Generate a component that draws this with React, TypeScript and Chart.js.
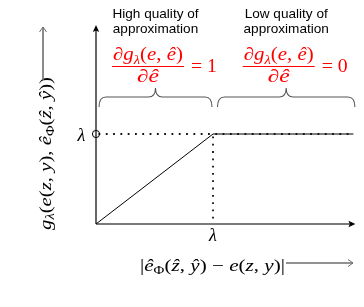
import React, { useEffect, useRef } from "react";
import { Chart, registerables } from "chart.js";

Chart.register(...registerables);

// ---- data ----
const LAMBDA = 1;
const X_MAX = 2.2;
const Y_MAX = 2.2;
const risingX = [0, LAMBDA];
const risingY = [0, LAMBDA];
const plateauX = [LAMBDA, X_MAX];
const plateauY = [LAMBDA, LAMBDA];
const xTickLabels = ["λ"];
const yTickLabels = ["λ"];
const regionTitles = [
  ["High quality of", "approximation"],
  ["Low quality of", "approximation"],
];
const regionBounds = [
  [0, LAMBDA],
  [LAMBDA, X_MAX],
];
const regionDerivatives = ["1", "0"];

type Run = { t: string; i?: boolean; s?: boolean };

const SERIF = '"Liberation Serif", "DejaVu Serif", serif';
function fontFor(r: Run, size: number) {
  const sz = r.s ? size * 0.7 : size;
  return `${r.i ? "italic " : ""}${sz}px ${SERIF}`;
}
function measureRuns(ctx: CanvasRenderingContext2D, runs: Run[], size: number) {
  let w = 0;
  for (const r of runs) {
    ctx.font = fontFor(r, size);
    w += ctx.measureText(r.t).width;
  }
  return w;
}
function drawRuns(
  ctx: CanvasRenderingContext2D,
  runs: Run[],
  x: number,
  y: number,
  size: number,
  target?: number,
  align: "left" | "center" = "left"
) {
  const nat = measureRuns(ctx, runs, size);
  const k = target ? target / nat : 1;
  const w = nat * k;
  const x0 = align === "center" ? x - w / 2 : x;
  ctx.save();
  ctx.translate(x0, y);
  ctx.scale(k, 1);
  ctx.textAlign = "left";
  ctx.textBaseline = "alphabetic";
  let cx = 0;
  for (const r of runs) {
    ctx.font = fontFor(r, size);
    ctx.fillText(r.t, cx, r.s ? size * 0.22 : 0);
    cx += ctx.measureText(r.t).width;
  }
  ctx.restore();
  return w;
}

const numerRuns: Run[] = [
  { t: "∂", i: true },
  { t: "g", i: true },
  { t: "λ", i: true, s: true },
  { t: "(" },
  { t: "e", i: true },
  { t: ", " },
  { t: "ê", i: true },
  { t: ")" },
];
const denomRuns: Run[] = [{ t: "∂", i: true }, { t: "ê", i: true }];
const yLabelRuns: Run[] = [
  { t: "g", i: true },
  { t: "λ", i: true, s: true },
  { t: "(" },
  { t: "e", i: true },
  { t: "(" },
  { t: "z", i: true },
  { t: ", " },
  { t: "y", i: true },
  { t: "), " },
  { t: "ê", i: true },
  { t: "Φ", s: true },
  { t: "(" },
  { t: "ẑ", i: true },
  { t: ", " },
  { t: "ŷ", i: true },
  { t: "))" },
];
const xLabelRuns: Run[] = [
  { t: "|" },
  { t: "ê", i: true },
  { t: "Φ", s: true },
  { t: "(" },
  { t: "ẑ", i: true },
  { t: ", " },
  { t: "ŷ", i: true },
  { t: ") − " },
  { t: "e", i: true },
  { t: "(" },
  { t: "z", i: true },
  { t: ", " },
  { t: "y", i: true },
  { t: ")|" },
];

const decorPlugin = {
  id: "decor",
  beforeDatasetsDraw(chart: any) {
    const ctx: CanvasRenderingContext2D = chart.ctx;
    const xs = chart.scales.x;
    const ys = chart.scales.y;
    const ox = xs.getPixelForValue(0);
    const oy = ys.getPixelForValue(0);
    const xEnd = xs.getPixelForValue(X_MAX);
    const yTop = ys.getPixelForValue(Y_MAX);
    ctx.save();
    // y axis
    ctx.strokeStyle = "#000";
    ctx.lineWidth = 1.2;
    ctx.beginPath();
    ctx.moveTo(ox, oy);
    ctx.lineTo(ox, yTop + 4);
    ctx.stroke();
    ctx.fillStyle = "#000";
    ctx.beginPath();
    ctx.moveTo(ox, yTop - 1);
    ctx.lineTo(ox - 3.2, yTop + 6);
    ctx.lineTo(ox, yTop + 4.5);
    ctx.lineTo(ox + 3.2, yTop + 6);
    ctx.closePath();
    ctx.fill();
    // x axis
    ctx.strokeStyle = "#7a7a7a";
    ctx.lineWidth = 2;
    ctx.beginPath();
    ctx.moveTo(ox, oy);
    ctx.lineTo(xEnd - 3, oy);
    ctx.stroke();
    ctx.fillStyle = "#000";
    ctx.beginPath();
    ctx.moveTo(xEnd + 2, oy);
    ctx.lineTo(xEnd - 5, oy - 3.2);
    ctx.lineTo(xEnd - 3.5, oy);
    ctx.lineTo(xEnd - 5, oy + 3.2);
    ctx.closePath();
    ctx.fill();
    ctx.restore();
  },
  afterDraw(chart: any) {
    const ctx: CanvasRenderingContext2D = chart.ctx;
    const xs = chart.scales.x;
    const ys = chart.scales.y;
    const ox = xs.getPixelForValue(0);
    const oy = ys.getPixelForValue(0);
    const lx = xs.getPixelForValue(LAMBDA);
    const ly = ys.getPixelForValue(LAMBDA);
    ctx.save();
    // circle at lambda on y axis
    ctx.strokeStyle = "#000";
    ctx.lineWidth = 1;
    ctx.beginPath();
    ctx.arc(ox, ly, 3.6, 0, Math.PI * 2);
    ctx.stroke();
    ctx.fillStyle = "#000";
    // tick labels
    drawRuns(ctx, [{ t: yTickLabels[0], i: true }], ox - 14.5, ly + 6.5, 18, undefined, "center");
    drawRuns(ctx, [{ t: xTickLabels[0], i: true }], lx, oy + 16.5, 18, undefined, "center");

    // braces + region texts
    regionBounds.forEach((b, idx) => {
      const x1 = xs.getPixelForValue(b[0]) + (idx === 0 ? 3 : 4.5);
      const x2 = xs.getPixelForValue(b[1]) + (idx === 0 ? -1 : 1.5);
      const cx = (x1 + x2) / 2;
      const yT = 97;
      const yTip = 107;
      const yC = 88;
      ctx.strokeStyle = "#555";
      ctx.lineWidth = 1.1;
      ctx.beginPath();
      ctx.moveTo(x1, yTip);
      ctx.quadraticCurveTo(x1, yT, x1 + 7, yT);
      ctx.lineTo(cx - 7, yT);
      ctx.quadraticCurveTo(cx, yT, cx, yC);
      ctx.quadraticCurveTo(cx, yT, cx + 7, yT);
      ctx.lineTo(x2 - 7, yT);
      ctx.quadraticCurveTo(x2, yT, x2, yTip);
      ctx.stroke();

      ctx.fillStyle = "#000";
      ctx.font = '13.6px "Liberation Sans", Arial, sans-serif';
      ctx.textAlign = "center";
      ctx.textBaseline = "alphabetic";
      ctx.fillText(regionTitles[idx][0], cx, 18);
      ctx.fillText(regionTitles[idx][1], cx, 33);

      // red derivative
      ctx.fillStyle = "#ff0000";
      ctx.strokeStyle = "#ff0000";
      const fc = cx - 7.5;
      drawRuns(ctx, numerRuns, fc, 60, 18, 70, "center");
      ctx.lineWidth = 1;
      ctx.beginPath();
      ctx.moveTo(fc - 36, 66.5);
      ctx.lineTo(fc + 36, 66.5);
      ctx.stroke();
      drawRuns(ctx, denomRuns, fc, 81.5, 18, 22, "center");
      drawRuns(ctx, [{ t: "= " + regionDerivatives[idx] }], fc + 43, 72, 18, 26, "left");
    });

    // y label (rotated)
    ctx.fillStyle = "#000";
    ctx.save();
    ctx.translate(50.5, 153.5);
    ctx.rotate(-Math.PI / 2);
    drawRuns(ctx, yLabelRuns, 0, 0, 17.5, 153, "center");
    ctx.restore();
    // y label arrow
    ctx.strokeStyle = "#6e6e6e";
    ctx.lineWidth = 1.6;
    ctx.beginPath();
    ctx.moveTo(43, 80);
    ctx.lineTo(43, 27);
    ctx.stroke();
    ctx.lineWidth = 1;
    ctx.beginPath();
    ctx.moveTo(39.5, 32);
    ctx.lineTo(43, 27);
    ctx.lineTo(46.5, 32);
    ctx.stroke();

    // x label
    ctx.fillStyle = "#000";
    drawRuns(ctx, xLabelRuns, 140, 270.5, 17.5, 145, "left");
    ctx.strokeStyle = "#6e6e6e";
    ctx.lineWidth = 1.6;
    ctx.beginPath();
    ctx.moveTo(286, 263);
    ctx.lineTo(353, 263);
    ctx.stroke();
    ctx.lineWidth = 1;
    ctx.beginPath();
    ctx.moveTo(348, 259.5);
    ctx.lineTo(353, 263);
    ctx.lineTo(348, 266.5);
    ctx.stroke();
    ctx.restore();
  },
};

export default function App() {
  const ref = useRef<HTMLCanvasElement | null>(null);
  useEffect(() => {
    if (!ref.current) return;
    const pts = (xa: number[], ya: number[]) => xa.map((x, i) => ({ x, y: ya[i] }));
    const chart = new Chart(ref.current, {
      type: "scatter",
      data: {
        datasets: [
          {
            label: "guide-h",
            data: [
              { x: 0, y: LAMBDA },
              { x: X_MAX, y: LAMBDA },
            ],
            showLine: true,
            borderColor: "#111",
            borderWidth: 1.8,
            borderDash: [1.8, 5.5],
            borderDashOffset: -2.5,
            pointRadius: 0,
            borderCapStyle: "butt",
          },
          {
            label: "guide-v",
            data: [
              { x: LAMBDA, y: LAMBDA },
              { x: LAMBDA, y: 0 },
            ],
            showLine: true,
            borderColor: "#111",
            borderWidth: 1.8,
            borderDash: [1.8, 5.5],
            borderDashOffset: -2.5,
            pointRadius: 0,
          },
          {
            label: "plateau",
            data: pts(plateauX, plateauY),
            showLine: true,
            borderColor: "#808080",
            borderWidth: 2,
            pointRadius: 0,
          },
          {
            label: "rising",
            data: pts(risingX, risingY),
            showLine: true,
            borderColor: "#000",
            borderWidth: 1,
            pointRadius: 0,
          },
        ],
      },
      options: {
        animation: false,
        responsive: true,
        maintainAspectRatio: false,
        layout: { padding: { left: 96, right: 10.6, top: 26, bottom: 83 } },
        plugins: { legend: { display: false }, tooltip: { enabled: false }, title: { display: false } },
        events: [],
        scales: {
          x: { type: "linear", min: 0, max: X_MAX, display: false },
          y: { type: "linear", min: 0, max: Y_MAX, display: false },
        },
        elements: { line: { tension: 0 } },
        clip: false as any,
      },
      plugins: [decorPlugin],
    });
    return () => chart.destroy();
  }, []);
  return (
    <div style={{ position: "fixed", left: 0, top: 0, width: 364, height: 307, background: "#fff" }}>
      <canvas ref={ref} />
    </div>
  );
}
